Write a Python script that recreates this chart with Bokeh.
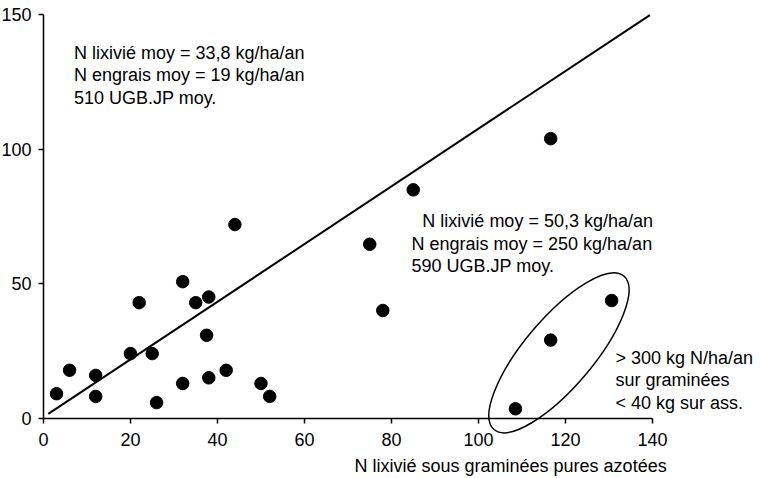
from bokeh.plotting import figure
from bokeh.models import Range1d, FixedTicker, Label
from bokeh.embed import file_html
from bokeh.resources import INLINE

# ---- data ----
x_vals = [3, 6, 12, 12, 20, 22, 25, 26, 32, 32, 35, 37.5, 38, 38, 42, 44, 50, 52,
          75, 78, 85, 108.5, 116.6, 116.6, 130.6]
y_vals = [9.2, 17.9, 16.0, 8.2, 24.1, 43.0, 24.1, 5.9, 50.8, 13.0, 43.0, 30.9, 45.1, 15.1,
          17.9, 72.0, 13.0, 8.2, 64.7, 40.1, 84.9, 3.6, 29.1, 103.9, 43.8]
fit_x = [1.1, 139.4]
fit_y = [1.7, 149.8]
x_ticks = [0, 20, 40, 60, 80, 100, 120, 140]
y_ticks = [0, 50, 100, 150]
note_left = ["N lixivié moy = 33,8 kg/ha/an", "N engrais moy = 19 kg/ha/an", "510 UGB.JP moy."]
note_right = ["N lixivié moy = 50,3 kg/ha/an", "N engrais moy = 250 kg/ha/an", "590 UGB.JP moy."]
note_group = ["> 300 kg N/ha/an", "sur graminées", "< 40 kg sur ass."]
x_title = "N lixivié sous graminées pures azotées"

FONT = "Liberation Sans"
FS = "18px"
DY = 1.86  # baseline correction (about 5 px upward)

p = figure(width=764, height=483, output_backend="svg", toolbar_location=None,
           x_range=Range1d(-11.49, 164.14), y_range=Range1d(-21.54, 157.8),
           min_border_left=0, min_border_right=0, min_border_top=0, min_border_bottom=0)
p.styles = {"margin-left": "-7px", "margin-top": "-7px"}
p.outline_line_color = None
p.grid.visible = False
p.background_fill_color = "white"
p.border_fill_color = "white"

for ax in (p.xaxis[0], p.yaxis[0]):
    ax.axis_line_color = "black"
    ax.axis_line_width = 1.5
    ax.major_tick_line_color = "black"
    ax.major_tick_line_width = 1.5
    ax.major_tick_in = 0
    ax.major_tick_out = 5
    ax.minor_tick_line_color = None
    ax.major_label_text_font = FONT
    ax.major_label_text_font_size = FS
    ax.major_label_text_color = "black"
    ax.fixed_location = 0

p.xaxis[0].ticker = FixedTicker(ticks=x_ticks)
p.yaxis[0].ticker = FixedTicker(ticks=y_ticks)
p.xaxis[0].bounds = (0, 140)
p.yaxis[0].bounds = (0, 150)
p.xaxis[0].major_label_standoff = 10
p.yaxis[0].major_label_standoff = 7

p.line(fit_x, fit_y, line_color="black", line_width=2)
p.scatter(x_vals, y_vals, size=12.5, fill_color="black", line_color="black")

p.ellipse(x=[118.5], y=[24.4], width=[201], height=[69], angle=[0.869],
          width_units="screen", height_units="screen",
          fill_color=None, line_color="black", line_width=1.5)

def add_lines(lines, xs, ys):
    for t, xx, yy in zip(lines, xs, ys):
        p.add_layout(Label(x=xx, y=yy + DY, text=t, text_font=FONT, text_font_size=FS,
                           text_color="black", text_baseline="alphabetic", text_align="left"))

add_lines(note_left, [7.0, 7.0, 7.0], [133.9, 125.6, 117.2])
add_lines(note_right, [87.1, 84.6, 84.6], [71.5, 63.1, 54.8])
add_lines(note_group, [131.5, 131.5, 131.5], [20.7, 12.3, 4.0])
add_lines([x_title], [71.5], [-19.6])

open("out.html", "w").write(file_html(p, INLINE))
